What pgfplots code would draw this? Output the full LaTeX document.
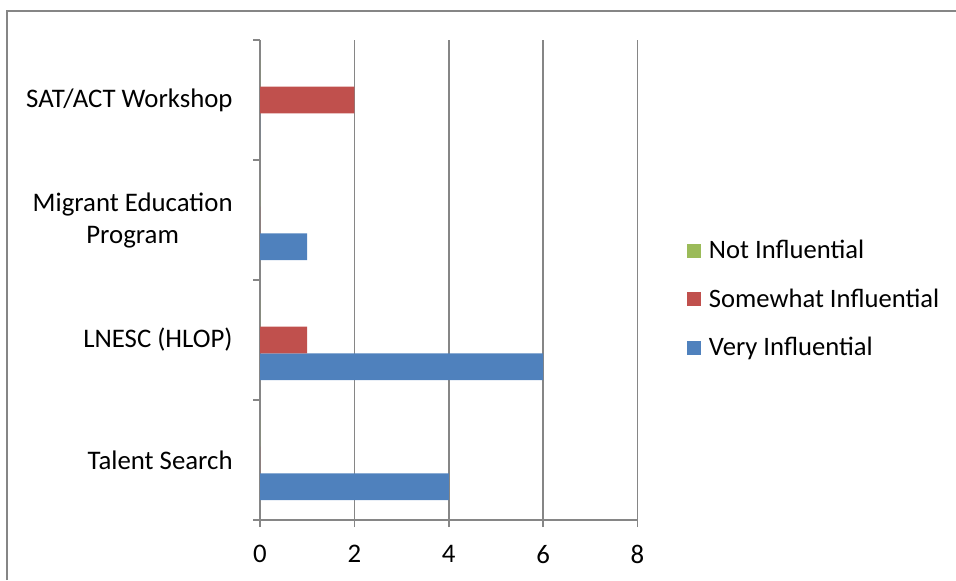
\documentclass[border=0pt]{standalone}
\usepackage{fontspec}
\setmainfont{Carlito}
\usepackage{pgfplots}
\pgfplotsset{compat=1.18}
\definecolor{veryblue}{HTML}{4F81BD}
\definecolor{somered}{HTML}{C0504D}
\definecolor{notgreen}{HTML}{9BBB59}
\definecolor{axisgray}{HTML}{868686}

\begin{document}
\begin{tikzpicture}
\useasboundingbox (0,0) rectangle (478pt,290pt);
% chart area frame
\draw[axisgray, line width=0.75pt] (3.5pt,0pt) -- (3.5pt,284.5pt) -- (478pt,284.5pt);
\begin{axis}[
  at={(130pt,30pt)}, anchor=south west,
  scale only axis, width=188.75pt, height=240pt,
  xbar, bar width=13.333pt,
  xmin=0, xmax=8, ymin=-0.5, ymax=3.5,
  axis x line=bottom, axis y line=left,
  axis line style={axisgray, line width=0.75pt, -},
  xtick={0,2,4,6,8},
  ytick={-0.5,0.5,1.5,2.5,3.5}, yticklabels={},
  extra y ticks={0,1,2,3},
  extra y tick labels={Talent Search, LNESC (HLOP), {Migrant Education\\Program}, SAT/ACT Workshop},
  extra y tick style={major tick length=0pt, grid=none},
  tick align=outside, major tick length=3.5pt,
  tick style={axisgray, line width=0.75pt},
  xmajorgrids, major grid style={axisgray, line width=0.75pt},
  /pgf/number format/assume math mode=true,
  tick label style={font=\fontsize{13.4}{16}\selectfont, black},
  yticklabel style={align=center, inner sep=0pt, xshift=-13.5pt},
  xticklabel style={inner sep=0pt, yshift=-9pt},
  legend style={at={(1.1311,0.4604)}, anchor=west, draw=none, fill=none,
    inner sep=0pt, outer sep=0pt, row sep=12.25pt, column sep=4pt,
    nodes={inner sep=0pt, text height=10pt, text depth=2pt},
    font=\fontsize{13.3}{16}\selectfont},
  legend cell align=left,
  reverse legend,
  legend image code/.code={\fill[#1] (0pt,-3.5pt) rectangle (7pt,3.5pt);},
]
\addplot[fill=veryblue, draw=none, bar shift=-13.333pt]
  coordinates {(4,0) (6,1) (1,2) (0,3)};
\addplot[fill=somered, draw=none, bar shift=0pt]
  coordinates {(0,0) (1,1) (0,2) (2,3)};
\addplot[fill=notgreen, draw=none, bar shift=13.333pt]
  coordinates {(0,0) (0,1) (0,2) (0,3)};
\addlegendentry{Very Influential}
\addlegendentry{Somewhat Influential}
\addlegendentry{Not Influential}
\end{axis}
\end{tikzpicture}
\end{document}
